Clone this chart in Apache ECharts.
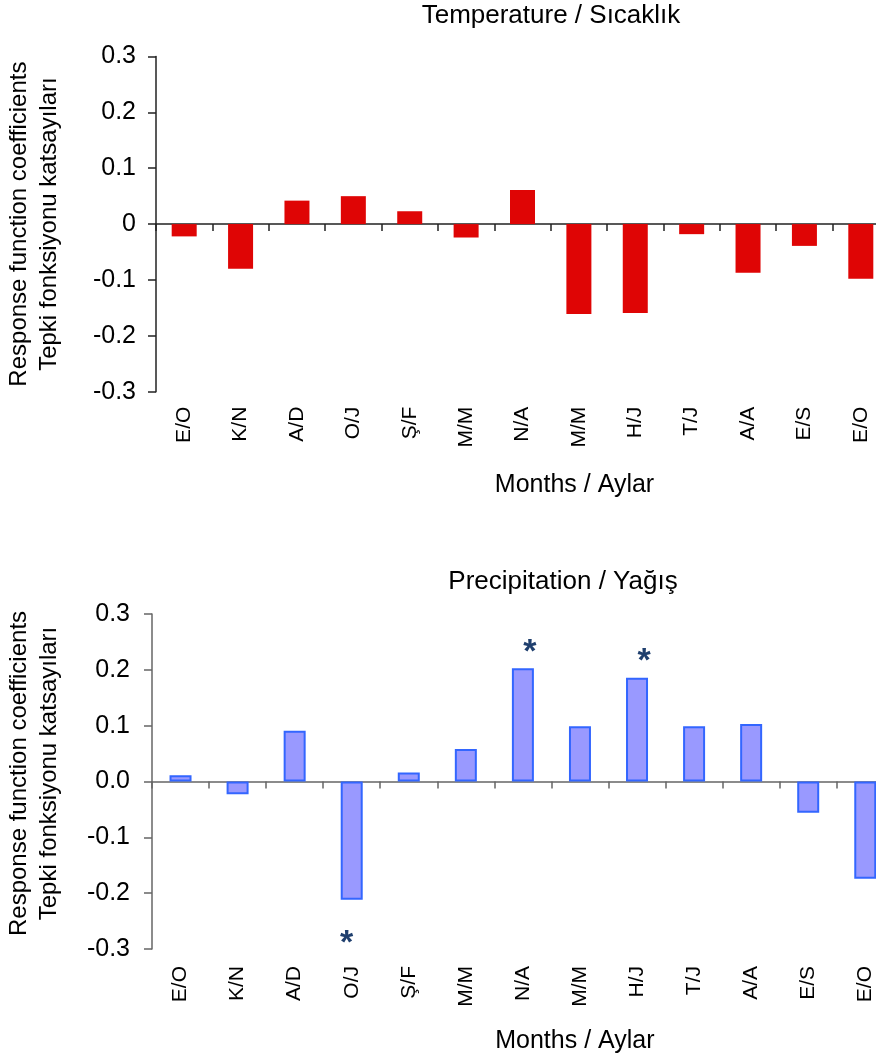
<!DOCTYPE html>
<html><head><meta charset="utf-8">
<script src="https://cdn.jsdelivr.net/npm/echarts@6/dist/echarts.min.js"></script>
<style>html,body{margin:0;padding:0;background:#fff}#c{width:876px;height:1055px}</style>
</head><body><div id="c"></div>
<script>
const months = ['E/O','K/N','A/D','O/J','Ş/F','M/M','N/A','M/M','H/J','T/J','A/A','E/S','E/O'];
const temperature = [-0.022,-0.080,0.042,0.050,0.023,-0.024,0.061,-0.161,-0.159,-0.018,-0.087,-0.039,-0.098];
const precipitation = [0.011,-0.023,0.091,-0.212,0.016,0.058,0.203,0.099,0.186,0.099,0.103,-0.056,-0.174];
const precipSignificant = [false,false,false,true,false,false,true,false,true,false,false,false,false];
const tempTickLabels = ['-0.3','-0.2','-0.1','0','0.1','0.2','0.3'];
const precipTickLabels = ['-0.3','-0.2','-0.1','0.0','0.1','0.2','0.3'];
const chartTitles = ['Temperature / Sıcaklık','Precipitation / Yağış'];
const yName = 'Response function coefficients\nTepki fonksiyonu katsayıları';
const xName = 'Months / Aylar';

const FONT = "'Liberation Sans', Arial, sans-serif";
const chart = echarts.init(document.getElementById('c'), null, {renderer:'canvas'});

function yAxisCfg(grid, labels, color, nameGap, namePad, margin){
  return {
    type:'value', gridIndex:grid, min:-0.3, max:0.3, interval:0.1,
    axisLine:{show:true, lineStyle:{color:color, width:1.5}},
    axisTick:{show:true, length:8, lineStyle:{color:color, width:1.5}},
    splitLine:{show:false},
    axisLabel:{fontFamily:FONT, fontSize:25, color:'#000', margin:margin,
      formatter:(v,i)=>labels[i]},
    name:yName, nameLocation:'middle', nameRotate:90, nameGap:nameGap,
    nameTextStyle:{fontFamily:FONT, fontSize:24, lineHeight:30, color:'#000', padding:namePad}
  };
}
function xLineAxis(grid, color){
  return {
    type:'category', gridIndex:grid, data:months, position:'bottom',
    axisLine:{show:true, onZero:true, lineStyle:{color:color, width:1.5}},
    axisTick:{show:true, length:7, interval:0, lineStyle:{color:color, width:1.5}},
    axisLabel:{show:false}, splitLine:{show:false}
  };
}
function xLabelAxis(grid, margin, nameGap){
  return {
    type:'category', gridIndex:grid, data:months, position:'bottom',
    axisLine:{show:false, onZero:false}, axisTick:{show:false},
    axisLabel:{show:true, interval:0, rotate:90, margin:margin, fontFamily:FONT, fontSize:21, color:'#000'},
    name:xName, nameLocation:'middle', nameGap:nameGap,
    nameTextStyle:{fontFamily:FONT, fontSize:25, color:'#000', verticalAlign:'top', padding:[0,0,0,104]}
  };
}

const precipData = precipitation.map((v,i)=> precipSignificant[i] ? {
  value:v,
  label:{show:true, formatter:'*', position: v>=0?'top':'bottom', distance: v>=0?-1:27,
    offset:[v>=0?7:-5,0], fontFamily:FONT, fontSize:34, fontWeight:'bold', color:'#1f3f6e'}
} : v);

chart.setOption({
  animation:false,
  backgroundColor:'#fff',
  title:[
    {text:chartTitles[0], left:551, top:3, textAlign:'center', padding:0,
      textStyle:{fontFamily:FONT, fontSize:26, fontWeight:'normal', color:'#000'}},
    {text:chartTitles[1], left:563, top:569, textAlign:'center', padding:0,
      textStyle:{fontFamily:FONT, fontSize:26, fontWeight:'normal', color:'#000'}}
  ],
  grid:[
    {left:156, top:56.5, width:733, height:335.2, outerBoundsMode:'none', containLabel:false},
    {left:152, top:614, width:741.8, height:335, outerBoundsMode:'none', containLabel:false}
  ],
  xAxis:[ xLineAxis(0,'#222'), xLabelAxis(0,15,81), xLineAxis(1,'#666'), xLabelAxis(1,17,80) ],
  yAxis:[ yAxisCfg(0,tempTickLabels,'#222',92,[0,0,0,0],20), yAxisCfg(1,precipTickLabels,'#666',88,[0,0,0,16],22) ],
  series:[
    {type:'bar', name:chartTitles[0], xAxisIndex:0, yAxisIndex:0, data:temperature, barWidth:25,
      itemStyle:{color:'#df0505'}},
    {type:'bar', name:chartTitles[1], xAxisIndex:2, yAxisIndex:1, data:precipData, barWidth:22,
      itemStyle:{color:'#9999ff', borderColor:'#3366ff', borderWidth:2}}
  ]
});
</script></body></html>
